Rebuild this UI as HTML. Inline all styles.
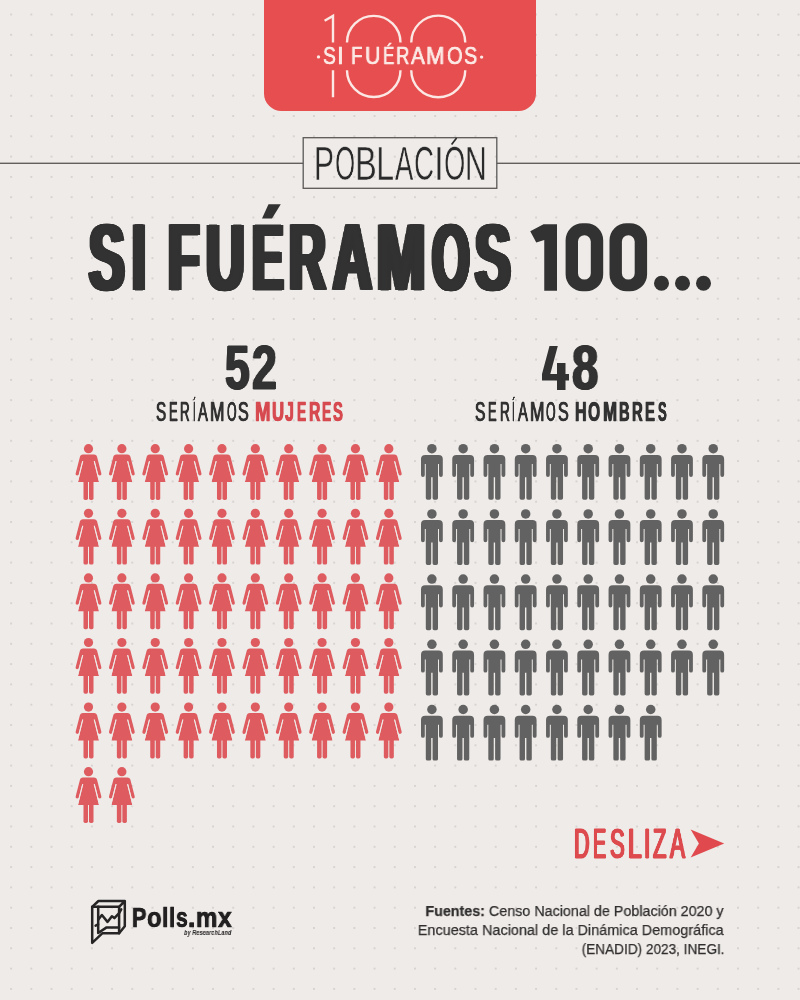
<!DOCTYPE html>
<html><head><meta charset="utf-8">
<style>
html,body{margin:0;padding:0;}
body{width:800px;height:1000px;position:relative;overflow:hidden;background:#eeebe8;font-family:"Liberation Sans",sans-serif;}
.abs{position:absolute;white-space:nowrap;line-height:1;will-change:transform;}
svg.full{position:absolute;left:0;top:0;}
</style></head><body>
<svg class="full" width="800" height="1000" viewBox="0 0 800 1000">
<defs>
<pattern id="dots" x="11.14" y="14.5" width="20.19" height="20.30" patternUnits="userSpaceOnUse">
<circle cx="0" cy="0" r="0.75" fill="#b3afac"/><circle cx="20.19" cy="0" r="0.75" fill="#b3afac"/><circle cx="0" cy="20.30" r="0.75" fill="#b3afac"/><circle cx="20.19" cy="20.30" r="0.75" fill="#b3afac"/>
</pattern>
<g id="w" fill="#de5b5f">
<circle cx="0" cy="0" r="4.6"/>
<path d="M -5.5,5.9 L 5.5,5.9 C 7.3,5.9 8.3,6.9 8.6,8.2 L 12.8,24.5 C 13.1,25.8 12.3,26.8 11.2,26.8 C 10.4,26.8 9.9,26.3 9.7,25.6 L 6.3,12.4 L -6.3,12.4 L -9.7,25.6 C -9.9,26.3 -10.4,26.8 -11.2,26.8 C -12.3,26.8 -13.1,25.8 -12.8,24.5 L -8.6,8.2 C -8.3,6.9 -7.3,5.9 -5.5,5.9 Z"/>
<path d="M -4.2,7 L 4.2,7 L 10.5,33.4 L -10.5,33.4 Z"/>
<path d="M -5.0,32 L -0.5,32 L -0.5,49.6 Q -0.5,51.3 -2.2,51.3 L -3.3,51.3 Q -5.0,51.3 -5.0,49.6 Z"/>
<path d="M 5.0,32 L 0.5,32 L 0.5,49.6 Q 0.5,51.3 2.2,51.3 L 3.3,51.3 Q 5.0,51.3 5.0,49.6 Z"/>
<path d="M 5.7,12.6 L 11.6,35.8 M -5.7,12.6 L -11.6,35.8" stroke="#eeebe8" stroke-width="1.0" fill="none"/>
</g>
<g id="m" fill="#636262">
<circle cx="0" cy="0" r="4.75"/>
<path d="M -6.7,6.2 L 6.7,6.2 Q 10.9,6.2 10.9,10.4 L 10.9,26.4 Q 10.9,28.3 9,28.3 Q 7.1,28.3 7.1,26.4 L 7.1,15.2 L 6.1,15.2 L 6.1,49.4 Q 6.1,51.1 4.4,51.1 L 2.3,51.1 Q 0.7,51.1 0.7,49.4 L 0.7,28.5 L -0.7,28.5 L -0.7,49.4 Q -0.7,51.1 -2.3,51.1 L -4.4,51.1 Q -6.1,51.1 -6.1,49.4 L -6.1,15.2 L -7.1,15.2 L -7.1,26.4 Q -7.1,28.3 -9,28.3 Q -10.9,28.3 -10.9,26.4 L -10.9,10.4 Q -10.9,6.2 -6.7,6.2 Z"/>
</g>
</defs>
<rect x="0" y="0" width="800" height="1000" fill="url(#dots)"/>
<!-- red header -->
<path d="M 264,0 L 536,0 L 536,93.5 A 17.5,17.5 0 0 1 518.5,111 L 281.5,111 A 17.5,17.5 0 0 1 264,93.5 Z" fill="#e74e4f"/>
<g fill="none" stroke="#fbe8e4" stroke-width="2.4">
<path d="M 324.6,20.7 L 333,15.9 L 333,42.6 M 333,70.2 L 333,97.2"/>
<path d="M 347,42.6 A 26.75,26.75 0 0 1 400.5,42.6 M 347,70.2 A 26.75,26.75 0 0 0 400.5,70.2"/>
<path d="M 411.25,42.6 A 27,27 0 0 1 465.25,42.6 M 411.25,70.2 A 27,27 0 0 0 465.25,70.2"/>
</g>
<circle cx="318.5" cy="56.9" r="1.7" fill="#fbe8e4"/>
<circle cx="481.6" cy="57.1" r="1.7" fill="#fbe8e4"/>
<!-- lines -->
<rect x="0" y="162.6" width="303.2" height="1.4" fill="#625f5e"/>
<rect x="496.8" y="162.6" width="303.2" height="1.4" fill="#625f5e"/>
<rect x="303.2" y="137.7" width="193.6" height="50.6" fill="none" stroke="#5a5858" stroke-width="1.3"/>
<use href="#w" x="88.50" y="448.70"/>
<use href="#w" x="121.87" y="448.70"/>
<use href="#w" x="155.24" y="448.70"/>
<use href="#w" x="188.61" y="448.70"/>
<use href="#w" x="221.98" y="448.70"/>
<use href="#w" x="255.35" y="448.70"/>
<use href="#w" x="288.72" y="448.70"/>
<use href="#w" x="322.09" y="448.70"/>
<use href="#w" x="355.46" y="448.70"/>
<use href="#w" x="388.83" y="448.70"/>
<use href="#w" x="88.50" y="513.30"/>
<use href="#w" x="121.87" y="513.30"/>
<use href="#w" x="155.24" y="513.30"/>
<use href="#w" x="188.61" y="513.30"/>
<use href="#w" x="221.98" y="513.30"/>
<use href="#w" x="255.35" y="513.30"/>
<use href="#w" x="288.72" y="513.30"/>
<use href="#w" x="322.09" y="513.30"/>
<use href="#w" x="355.46" y="513.30"/>
<use href="#w" x="388.83" y="513.30"/>
<use href="#w" x="88.50" y="577.90"/>
<use href="#w" x="121.87" y="577.90"/>
<use href="#w" x="155.24" y="577.90"/>
<use href="#w" x="188.61" y="577.90"/>
<use href="#w" x="221.98" y="577.90"/>
<use href="#w" x="255.35" y="577.90"/>
<use href="#w" x="288.72" y="577.90"/>
<use href="#w" x="322.09" y="577.90"/>
<use href="#w" x="355.46" y="577.90"/>
<use href="#w" x="388.83" y="577.90"/>
<use href="#w" x="88.50" y="642.50"/>
<use href="#w" x="121.87" y="642.50"/>
<use href="#w" x="155.24" y="642.50"/>
<use href="#w" x="188.61" y="642.50"/>
<use href="#w" x="221.98" y="642.50"/>
<use href="#w" x="255.35" y="642.50"/>
<use href="#w" x="288.72" y="642.50"/>
<use href="#w" x="322.09" y="642.50"/>
<use href="#w" x="355.46" y="642.50"/>
<use href="#w" x="388.83" y="642.50"/>
<use href="#w" x="88.50" y="707.10"/>
<use href="#w" x="121.87" y="707.10"/>
<use href="#w" x="155.24" y="707.10"/>
<use href="#w" x="188.61" y="707.10"/>
<use href="#w" x="221.98" y="707.10"/>
<use href="#w" x="255.35" y="707.10"/>
<use href="#w" x="288.72" y="707.10"/>
<use href="#w" x="322.09" y="707.10"/>
<use href="#w" x="355.46" y="707.10"/>
<use href="#w" x="388.83" y="707.10"/>
<use href="#w" x="88.50" y="771.70"/>
<use href="#w" x="121.87" y="771.70"/>
<use href="#m" x="431.90" y="448.70"/>
<use href="#m" x="463.16" y="448.70"/>
<use href="#m" x="494.42" y="448.70"/>
<use href="#m" x="525.68" y="448.70"/>
<use href="#m" x="556.94" y="448.70"/>
<use href="#m" x="588.20" y="448.70"/>
<use href="#m" x="619.46" y="448.70"/>
<use href="#m" x="650.72" y="448.70"/>
<use href="#m" x="681.98" y="448.70"/>
<use href="#m" x="713.24" y="448.70"/>
<use href="#m" x="431.90" y="513.90"/>
<use href="#m" x="463.16" y="513.90"/>
<use href="#m" x="494.42" y="513.90"/>
<use href="#m" x="525.68" y="513.90"/>
<use href="#m" x="556.94" y="513.90"/>
<use href="#m" x="588.20" y="513.90"/>
<use href="#m" x="619.46" y="513.90"/>
<use href="#m" x="650.72" y="513.90"/>
<use href="#m" x="681.98" y="513.90"/>
<use href="#m" x="713.24" y="513.90"/>
<use href="#m" x="431.90" y="579.10"/>
<use href="#m" x="463.16" y="579.10"/>
<use href="#m" x="494.42" y="579.10"/>
<use href="#m" x="525.68" y="579.10"/>
<use href="#m" x="556.94" y="579.10"/>
<use href="#m" x="588.20" y="579.10"/>
<use href="#m" x="619.46" y="579.10"/>
<use href="#m" x="650.72" y="579.10"/>
<use href="#m" x="681.98" y="579.10"/>
<use href="#m" x="713.24" y="579.10"/>
<use href="#m" x="431.90" y="644.30"/>
<use href="#m" x="463.16" y="644.30"/>
<use href="#m" x="494.42" y="644.30"/>
<use href="#m" x="525.68" y="644.30"/>
<use href="#m" x="556.94" y="644.30"/>
<use href="#m" x="588.20" y="644.30"/>
<use href="#m" x="619.46" y="644.30"/>
<use href="#m" x="650.72" y="644.30"/>
<use href="#m" x="681.98" y="644.30"/>
<use href="#m" x="713.24" y="644.30"/>
<use href="#m" x="431.90" y="709.50"/>
<use href="#m" x="463.16" y="709.50"/>
<use href="#m" x="494.42" y="709.50"/>
<use href="#m" x="525.68" y="709.50"/>
<use href="#m" x="556.94" y="709.50"/>
<use href="#m" x="588.20" y="709.50"/>
<use href="#m" x="619.46" y="709.50"/>
<use href="#m" x="650.72" y="709.50"/>
<!-- logo -->
<g fill="none" stroke="#262424" stroke-width="2.5" stroke-linejoin="round" stroke-linecap="round">
<path d="M 92.2,906.8 L 119.1,906.8 L 119.1,933.2 L 102.5,933.2 L 92.2,942.8 Z"/>
<path d="M 92.2,906.8 L 98.4,901 L 124.8,901 L 124.8,926.2 L 119.1,933.2 M 124.8,901 L 119.1,906.8"/>
<path d="M 98.2,906.8 L 98.2,933 L 106.6,927.4 L 119.1,927.4"/>
<path d="M 98.4,919.4 L 101.9,915 L 107.5,921.9 L 111.9,916.25 L 114.4,918.1 L 119.1,913.1 L 121.25,909.4"/>
<path d="M 95.6,925.6 L 98.1,924.4"/>
</g>
<circle cx="661.5" cy="283.2" r="7.5" fill="#333232"/><circle cx="682.5" cy="283.2" r="7.5" fill="#333232"/><circle cx="703.5" cy="283.2" r="7.5" fill="#333232"/><path fill-rule="evenodd" fill="#333232" d="M 582.6,223.2 L 586.2,223.2 A 17,17 0 0 1 603.2,240.2 L 603.2,274.2 A 17,17 0 0 1 586.2,291.2 L 582.6,291.2 A 17,17 0 0 1 565.6,274.2 L 565.6,240.2 A 17,17 0 0 1 582.6,223.2 Z M 584.4,235.2 A 6.4,6.4 0 0 1 584.6,235.2 A 6.4,6.4 0 0 1 590.8000000000001,241.6 L 590.8000000000001,273.2 A 6.4,6.4 0 0 1 578.0,273.2 L 578.0,241.6 A 6.4,6.4 0 0 1 584.4,235.2 Z M 626.5,223.2 L 630.1,223.2 A 17,17 0 0 1 647.1,240.2 L 647.1,274.2 A 17,17 0 0 1 630.1,291.2 L 626.5,291.2 A 17,17 0 0 1 609.5,274.2 L 609.5,240.2 A 17,17 0 0 1 626.5,223.2 Z M 628.3,235.2 A 6.4,6.4 0 0 1 628.5,235.2 A 6.4,6.4 0 0 1 634.7,241.6 L 634.7,273.2 A 6.4,6.4 0 0 1 621.9,273.2 L 621.9,241.6 A 6.4,6.4 0 0 1 628.3,235.2 Z"/><path d="M 451.6,144.6 L 456.6,137.9" stroke="#2b2a2a" stroke-width="1.7" fill="none"/><path fill="#333232" d="M 268.5,204.25 L 280.75,204.25 L 272,218.5 L 262,218.5 Z"/><path fill="#333232" d="M 530.25,231.25 L 543.5,224.25 L 557,224.25 L 557,290.8 L 544.25,290.8 L 544.25,240 L 536.25,242.5 Z"/>
<path fill="#333232" d="M 549.5,346 L 557.8,346 L 550.3,374 L 557,374 L 557,363 L 565.5,363 L 565.5,374 L 569,374 L 569,380.6 L 565.5,380.6 L 565.5,390 L 557,390 L 557,380.6 L 542,380.6 L 542,374 Z"/>
<!-- arrow -->
<path d="M 690.65,829.4 L 724.2,843.4 L 690.65,857.5 L 698.9,843.4 Z" fill="#e04a4e"/>
</svg>

<div id="t100">
<div class="abs" style="left:322.77px;top:43.84px;font-size:24.0px;font-weight:normal;color:#fbe8e4;transform-origin:0 0;transform:scaleX(0.8045);-webkit-text-stroke:0.5px #fbe8e4;text-shadow:0.30px 0 0 #fbe8e4,-0.30px 0 0 #fbe8e4;">S</div>
<div class="abs" style="left:337.30px;top:43.84px;font-size:24.0px;font-weight:normal;color:#fbe8e4;transform-origin:0 0;transform:scaleX(0.9586);-webkit-text-stroke:0.5px #fbe8e4;text-shadow:0.30px 0 0 #fbe8e4,-0.30px 0 0 #fbe8e4;">I</div>
<div class="abs" style="left:350.89px;top:43.84px;font-size:24.0px;font-weight:normal;color:#fbe8e4;transform-origin:0 0;transform:scaleX(0.7794);-webkit-text-stroke:0.5px #fbe8e4;text-shadow:0.30px 0 0 #fbe8e4,-0.30px 0 0 #fbe8e4;">F</div>
<div class="abs" style="left:364.85px;top:43.84px;font-size:24.0px;font-weight:normal;color:#fbe8e4;transform-origin:0 0;transform:scaleX(0.8826);-webkit-text-stroke:0.5px #fbe8e4;text-shadow:0.30px 0 0 #fbe8e4,-0.30px 0 0 #fbe8e4;">U</div>
<div class="abs" style="left:382.69px;top:43.84px;font-size:24.0px;font-weight:normal;color:#fbe8e4;transform-origin:0 0;transform:scaleX(0.7088);-webkit-text-stroke:0.5px #fbe8e4;text-shadow:0.30px 0 0 #fbe8e4,-0.30px 0 0 #fbe8e4;">É</div>
<div class="abs" style="left:396.15px;top:43.84px;font-size:24.0px;font-weight:normal;color:#fbe8e4;transform-origin:0 0;transform:scaleX(0.7720);-webkit-text-stroke:0.5px #fbe8e4;text-shadow:0.30px 0 0 #fbe8e4,-0.30px 0 0 #fbe8e4;">R</div>
<div class="abs" style="left:411.18px;top:43.84px;font-size:24.0px;font-weight:normal;color:#fbe8e4;transform-origin:0 0;transform:scaleX(0.8611);-webkit-text-stroke:0.5px #fbe8e4;text-shadow:0.30px 0 0 #fbe8e4,-0.30px 0 0 #fbe8e4;">A</div>
<div class="abs" style="left:426.29px;top:43.84px;font-size:24.0px;font-weight:normal;color:#fbe8e4;transform-origin:0 0;transform:scaleX(0.9210);-webkit-text-stroke:0.5px #fbe8e4;text-shadow:0.30px 0 0 #fbe8e4,-0.30px 0 0 #fbe8e4;">M</div>
<div class="abs" style="left:447.41px;top:43.84px;font-size:24.0px;font-weight:normal;color:#fbe8e4;transform-origin:0 0;transform:scaleX(0.8351);-webkit-text-stroke:0.5px #fbe8e4;text-shadow:0.30px 0 0 #fbe8e4,-0.30px 0 0 #fbe8e4;">O</div>
<div class="abs" style="left:464.30px;top:43.84px;font-size:24.0px;font-weight:normal;color:#fbe8e4;transform-origin:0 0;transform:scaleX(0.8279);-webkit-text-stroke:0.5px #fbe8e4;text-shadow:0.30px 0 0 #fbe8e4,-0.30px 0 0 #fbe8e4;">S</div>
</div>
<div id="pob">
<div class="abs" style="left:313.57px;top:140.15px;font-size:47.9px;font-weight:normal;color:#2b2a2a;transform-origin:0 0;transform:scaleX(0.6282);-webkit-text-stroke:0.5px #eeebe8;text-shadow:none;">P</div>
<div class="abs" style="left:334.54px;top:140.15px;font-size:47.9px;font-weight:normal;color:#2b2a2a;transform-origin:0 0;transform:scaleX(0.5404);-webkit-text-stroke:0.5px #eeebe8;text-shadow:none;">O</div>
<div class="abs" style="left:354.97px;top:140.15px;font-size:47.9px;font-weight:normal;color:#2b2a2a;transform-origin:0 0;transform:scaleX(0.6762);-webkit-text-stroke:0.5px #eeebe8;text-shadow:none;">B</div>
<div class="abs" style="left:376.36px;top:140.15px;font-size:47.9px;font-weight:normal;color:#2b2a2a;transform-origin:0 0;transform:scaleX(0.6790);-webkit-text-stroke:0.5px #eeebe8;text-shadow:none;">L</div>
<div class="abs" style="left:394.80px;top:140.15px;font-size:47.9px;font-weight:normal;color:#2b2a2a;transform-origin:0 0;transform:scaleX(0.5694);-webkit-text-stroke:0.5px #eeebe8;text-shadow:none;">A</div>
<div class="abs" style="left:414.25px;top:140.15px;font-size:47.9px;font-weight:normal;color:#2b2a2a;transform-origin:0 0;transform:scaleX(0.5765);-webkit-text-stroke:0.5px #eeebe8;text-shadow:none;">C</div>
<div class="abs" style="left:434.39px;top:140.15px;font-size:47.9px;font-weight:normal;color:#2b2a2a;transform-origin:0 0;transform:scaleX(0.7310);-webkit-text-stroke:0.5px #eeebe8;text-shadow:none;">I</div>
<div class="abs" style="left:444.06px;top:140.15px;font-size:47.9px;font-weight:normal;color:#2b2a2a;transform-origin:0 0;transform:scaleX(0.5715);-webkit-text-stroke:0.5px #eeebe8;text-shadow:none;">O</div>
<div class="abs" style="left:464.76px;top:140.15px;font-size:47.9px;font-weight:normal;color:#2b2a2a;transform-origin:0 0;transform:scaleX(0.6322);-webkit-text-stroke:0.5px #eeebe8;text-shadow:none;">N</div>
</div>
<div id="title">
<div class="abs" style="left:89.48px;top:209.69px;font-size:94.6px;font-weight:bold;color:#333232;transform-origin:0 0;transform:scaleX(0.5640);-webkit-text-stroke:1.0px #333232;text-shadow:1.20px 0 0 #333232,-1.20px 0 0 #333232,2.40px 0 0 #333232,-2.40px 0 0 #333232,3.60px 0 0 #333232,-3.60px 0 0 #333232,4.80px 0 0 #333232,-4.80px 0 0 #333232,4.85px 0 0 #333232,-4.85px 0 0 #333232;">S</div>
<div class="abs" style="left:131.78px;top:209.69px;font-size:94.6px;font-weight:bold;color:#333232;transform-origin:0 0;transform:scaleX(0.5303);-webkit-text-stroke:1.0px #333232;text-shadow:1.20px 0 0 #333232,-1.20px 0 0 #333232,2.40px 0 0 #333232,-2.40px 0 0 #333232,3.60px 0 0 #333232,-3.60px 0 0 #333232,4.80px 0 0 #333232,-4.80px 0 0 #333232,4.85px 0 0 #333232,-4.85px 0 0 #333232;">I</div>
<div class="abs" style="left:168.47px;top:209.69px;font-size:94.6px;font-weight:bold;color:#333232;transform-origin:0 0;transform:scaleX(0.5452);-webkit-text-stroke:1.0px #333232;text-shadow:1.20px 0 0 #333232,-1.20px 0 0 #333232,2.40px 0 0 #333232,-2.40px 0 0 #333232,3.60px 0 0 #333232,-3.60px 0 0 #333232,4.80px 0 0 #333232,-4.80px 0 0 #333232,4.85px 0 0 #333232,-4.85px 0 0 #333232;">F</div>
<div class="abs" style="left:205.81px;top:209.69px;font-size:94.6px;font-weight:bold;color:#333232;transform-origin:0 0;transform:scaleX(0.5624);-webkit-text-stroke:1.0px #333232;text-shadow:1.20px 0 0 #333232,-1.20px 0 0 #333232,2.40px 0 0 #333232,-2.40px 0 0 #333232,3.60px 0 0 #333232,-3.60px 0 0 #333232,4.80px 0 0 #333232,-4.80px 0 0 #333232,4.85px 0 0 #333232,-4.85px 0 0 #333232;">U</div>
<div class="abs" style="left:251.51px;top:209.69px;font-size:94.6px;font-weight:bold;color:#333232;transform-origin:0 0;transform:scaleX(0.5018);-webkit-text-stroke:1.0px #333232;text-shadow:1.20px 0 0 #333232,-1.20px 0 0 #333232,2.40px 0 0 #333232,-2.40px 0 0 #333232,3.60px 0 0 #333232,-3.60px 0 0 #333232,4.80px 0 0 #333232,-4.80px 0 0 #333232,4.85px 0 0 #333232,-4.85px 0 0 #333232;">E</div>
<div class="abs" style="left:289.47px;top:209.69px;font-size:94.6px;font-weight:bold;color:#333232;transform-origin:0 0;transform:scaleX(0.5371);-webkit-text-stroke:1.0px #333232;text-shadow:1.20px 0 0 #333232,-1.20px 0 0 #333232,2.40px 0 0 #333232,-2.40px 0 0 #333232,3.60px 0 0 #333232,-3.60px 0 0 #333232,4.80px 0 0 #333232,-4.80px 0 0 #333232,4.85px 0 0 #333232,-4.85px 0 0 #333232;">R</div>
<div class="abs" style="left:332.70px;top:209.69px;font-size:94.6px;font-weight:bold;color:#333232;transform-origin:0 0;transform:scaleX(0.5663);-webkit-text-stroke:1.0px #333232;text-shadow:1.20px 0 0 #333232,-1.20px 0 0 #333232,2.40px 0 0 #333232,-2.40px 0 0 #333232,3.60px 0 0 #333232,-3.60px 0 0 #333232,4.80px 0 0 #333232,-4.80px 0 0 #333232,4.85px 0 0 #333232,-4.85px 0 0 #333232;">A</div>
<div class="abs" style="left:377.40px;top:209.69px;font-size:94.6px;font-weight:bold;color:#333232;transform-origin:0 0;transform:scaleX(0.6116);-webkit-text-stroke:1.0px #333232;text-shadow:1.20px 0 0 #333232,-1.20px 0 0 #333232,2.40px 0 0 #333232,-2.40px 0 0 #333232,3.60px 0 0 #333232,-3.60px 0 0 #333232,4.80px 0 0 #333232,-4.80px 0 0 #333232,4.85px 0 0 #333232,-4.85px 0 0 #333232;">M</div>
<div class="abs" style="left:431.75px;top:209.69px;font-size:94.6px;font-weight:bold;color:#333232;transform-origin:0 0;transform:scaleX(0.5103);-webkit-text-stroke:1.0px #333232;text-shadow:1.20px 0 0 #333232,-1.20px 0 0 #333232,2.40px 0 0 #333232,-2.40px 0 0 #333232,3.60px 0 0 #333232,-3.60px 0 0 #333232,4.80px 0 0 #333232,-4.80px 0 0 #333232,4.85px 0 0 #333232,-4.85px 0 0 #333232;">O</div>
<div class="abs" style="left:475.48px;top:209.69px;font-size:94.6px;font-weight:bold;color:#333232;transform-origin:0 0;transform:scaleX(0.5640);-webkit-text-stroke:1.0px #333232;text-shadow:1.20px 0 0 #333232,-1.20px 0 0 #333232,2.40px 0 0 #333232,-2.40px 0 0 #333232,3.60px 0 0 #333232,-3.60px 0 0 #333232,4.80px 0 0 #333232,-4.80px 0 0 #333232,4.85px 0 0 #333232,-4.85px 0 0 #333232;">S</div>
</div>
<div id="nums">
<div class="abs" style="left:224.90px;top:335.97px;font-size:63.2px;font-weight:bold;color:#333232;transform-origin:0 0;transform:scaleX(0.6991);-webkit-text-stroke:1.0px #333232;text-shadow:1.20px 0 0 #333232,-1.20px 0 0 #333232,1.30px 0 0 #333232,-1.30px 0 0 #333232;">5</div>
<div class="abs" style="left:252.22px;top:335.97px;font-size:63.2px;font-weight:bold;color:#333232;transform-origin:0 0;transform:scaleX(0.7053);-webkit-text-stroke:1.0px #333232;text-shadow:1.20px 0 0 #333232,-1.20px 0 0 #333232,1.30px 0 0 #333232,-1.30px 0 0 #333232;">2</div>
<div class="abs" style="left:571.85px;top:335.97px;font-size:63.2px;font-weight:bold;color:#333232;transform-origin:0 0;transform:scaleX(0.7472);-webkit-text-stroke:1.0px #333232;text-shadow:1.20px 0 0 #333232,-1.20px 0 0 #333232,1.30px 0 0 #333232,-1.30px 0 0 #333232;">8</div>
</div>

<div id="subs">
<div class="abs" style="left:155.93px;top:399.12px;font-size:27.0px;font-weight:normal;color:#333232;transform-origin:0 0;transform:scaleX(0.5636);-webkit-text-stroke:0.6px #333232;text-shadow:0.80px 0 0 #333232,-0.80px 0 0 #333232;">S</div>
<div class="abs" style="left:168.56px;top:399.12px;font-size:27.0px;font-weight:normal;color:#333232;transform-origin:0 0;transform:scaleX(0.4812);-webkit-text-stroke:0.6px #333232;text-shadow:0.80px 0 0 #333232,-0.80px 0 0 #333232;">E</div>
<div class="abs" style="left:180.25px;top:399.12px;font-size:27.0px;font-weight:normal;color:#333232;transform-origin:0 0;transform:scaleX(0.4937);-webkit-text-stroke:0.6px #333232;text-shadow:0.80px 0 0 #333232,-0.80px 0 0 #333232;">R</div>
<div class="abs" style="left:192.56px;top:399.12px;font-size:27.0px;font-weight:normal;color:#333232;transform-origin:0 0;transform:scaleX(0.3081);-webkit-text-stroke:0.6px #333232;text-shadow:0.80px 0 0 #333232,-0.80px 0 0 #333232;">Í</div>
<div class="abs" style="left:198.47px;top:399.12px;font-size:27.0px;font-weight:normal;color:#333232;transform-origin:0 0;transform:scaleX(0.5422);-webkit-text-stroke:0.6px #333232;text-shadow:0.80px 0 0 #333232,-0.80px 0 0 #333232;">A</div>
<div class="abs" style="left:210.28px;top:399.12px;font-size:27.0px;font-weight:normal;color:#333232;transform-origin:0 0;transform:scaleX(0.6416);-webkit-text-stroke:0.6px #333232;text-shadow:0.80px 0 0 #333232,-0.80px 0 0 #333232;">M</div>
<div class="abs" style="left:226.82px;top:399.12px;font-size:27.0px;font-weight:normal;color:#333232;transform-origin:0 0;transform:scaleX(0.4556);-webkit-text-stroke:0.6px #333232;text-shadow:0.80px 0 0 #333232,-0.80px 0 0 #333232;">O</div>
<div class="abs" style="left:238.43px;top:399.12px;font-size:27.0px;font-weight:normal;color:#333232;transform-origin:0 0;transform:scaleX(0.5918);-webkit-text-stroke:0.6px #333232;text-shadow:0.80px 0 0 #333232,-0.80px 0 0 #333232;">S</div>
<div class="abs" style="left:475.28px;top:399.12px;font-size:27.0px;font-weight:normal;color:#333232;transform-origin:0 0;transform:scaleX(0.5720);-webkit-text-stroke:0.6px #333232;text-shadow:0.80px 0 0 #333232,-0.80px 0 0 #333232;">S</div>
<div class="abs" style="left:488.47px;top:399.12px;font-size:27.0px;font-weight:normal;color:#333232;transform-origin:0 0;transform:scaleX(0.4752);-webkit-text-stroke:0.6px #333232;text-shadow:0.80px 0 0 #333232,-0.80px 0 0 #333232;">E</div>
<div class="abs" style="left:499.54px;top:399.12px;font-size:27.0px;font-weight:normal;color:#333232;transform-origin:0 0;transform:scaleX(0.5046);-webkit-text-stroke:0.6px #333232;text-shadow:0.80px 0 0 #333232,-0.80px 0 0 #333232;">R</div>
<div class="abs" style="left:512.04px;top:399.12px;font-size:27.0px;font-weight:normal;color:#333232;transform-origin:0 0;transform:scaleX(0.3338);-webkit-text-stroke:0.6px #333232;text-shadow:0.80px 0 0 #333232,-0.80px 0 0 #333232;">Í</div>
<div class="abs" style="left:517.57px;top:399.12px;font-size:27.0px;font-weight:normal;color:#333232;transform-origin:0 0;transform:scaleX(0.5472);-webkit-text-stroke:0.6px #333232;text-shadow:0.80px 0 0 #333232,-0.80px 0 0 #333232;">A</div>
<div class="abs" style="left:529.68px;top:399.12px;font-size:27.0px;font-weight:normal;color:#333232;transform-origin:0 0;transform:scaleX(0.6416);-webkit-text-stroke:0.6px #333232;text-shadow:0.80px 0 0 #333232,-0.80px 0 0 #333232;">M</div>
<div class="abs" style="left:546.22px;top:399.12px;font-size:27.0px;font-weight:normal;color:#333232;transform-origin:0 0;transform:scaleX(0.4556);-webkit-text-stroke:0.6px #333232;text-shadow:0.80px 0 0 #333232,-0.80px 0 0 #333232;">O</div>
<div class="abs" style="left:557.83px;top:399.12px;font-size:27.0px;font-weight:normal;color:#333232;transform-origin:0 0;transform:scaleX(0.5918);-webkit-text-stroke:0.6px #333232;text-shadow:0.80px 0 0 #333232,-0.80px 0 0 #333232;">S</div>
<div class="abs" style="left:255.04px;top:399.02px;font-size:27.0px;font-weight:bold;color:#d64a50;transform-origin:0 0;transform:scaleX(0.6897);-webkit-text-stroke:0.5px #d64a50;text-shadow:0.75px 0 0 #d64a50,-0.75px 0 0 #d64a50;">M</div>
<div class="abs" style="left:271.52px;top:399.02px;font-size:27.0px;font-weight:bold;color:#d64a50;transform-origin:0 0;transform:scaleX(0.6144);-webkit-text-stroke:0.5px #d64a50;text-shadow:0.75px 0 0 #d64a50,-0.75px 0 0 #d64a50;">U</div>
<div class="abs" style="left:285.35px;top:399.02px;font-size:27.0px;font-weight:bold;color:#d64a50;transform-origin:0 0;transform:scaleX(0.5927);-webkit-text-stroke:0.5px #d64a50;text-shadow:0.75px 0 0 #d64a50,-0.75px 0 0 #d64a50;">J</div>
<div class="abs" style="left:297.09px;top:399.02px;font-size:27.0px;font-weight:bold;color:#d64a50;transform-origin:0 0;transform:scaleX(0.5103);-webkit-text-stroke:0.5px #d64a50;text-shadow:0.75px 0 0 #d64a50,-0.75px 0 0 #d64a50;">E</div>
<div class="abs" style="left:308.93px;top:399.02px;font-size:27.0px;font-weight:bold;color:#d64a50;transform-origin:0 0;transform:scaleX(0.5852);-webkit-text-stroke:0.5px #d64a50;text-shadow:0.75px 0 0 #d64a50,-0.75px 0 0 #d64a50;">R</div>
<div class="abs" style="left:322.09px;top:399.02px;font-size:27.0px;font-weight:bold;color:#d64a50;transform-origin:0 0;transform:scaleX(0.5103);-webkit-text-stroke:0.5px #d64a50;text-shadow:0.75px 0 0 #d64a50,-0.75px 0 0 #d64a50;">E</div>
<div class="abs" style="left:333.22px;top:399.02px;font-size:27.0px;font-weight:bold;color:#d64a50;transform-origin:0 0;transform:scaleX(0.5502);-webkit-text-stroke:0.5px #d64a50;text-shadow:0.75px 0 0 #d64a50,-0.75px 0 0 #d64a50;">S</div>
<div class="abs" style="left:574.52px;top:399.02px;font-size:27.0px;font-weight:bold;color:#333232;transform-origin:0 0;transform:scaleX(0.5931);-webkit-text-stroke:0.5px #333232;text-shadow:0.75px 0 0 #333232,-0.75px 0 0 #333232;">H</div>
<div class="abs" style="left:587.94px;top:399.02px;font-size:27.0px;font-weight:bold;color:#333232;transform-origin:0 0;transform:scaleX(0.5780);-webkit-text-stroke:0.5px #333232;text-shadow:0.75px 0 0 #333232,-0.75px 0 0 #333232;">O</div>
<div class="abs" style="left:602.50px;top:399.02px;font-size:27.0px;font-weight:bold;color:#333232;transform-origin:0 0;transform:scaleX(0.6226);-webkit-text-stroke:0.5px #333232;text-shadow:0.75px 0 0 #333232,-0.75px 0 0 #333232;">M</div>
<div class="abs" style="left:618.96px;top:399.02px;font-size:27.0px;font-weight:bold;color:#333232;transform-origin:0 0;transform:scaleX(0.5415);-webkit-text-stroke:0.5px #333232;text-shadow:0.75px 0 0 #333232,-0.75px 0 0 #333232;">B</div>
<div class="abs" style="left:632.06px;top:399.02px;font-size:27.0px;font-weight:bold;color:#333232;transform-origin:0 0;transform:scaleX(0.5486);-webkit-text-stroke:0.5px #333232;text-shadow:0.75px 0 0 #333232,-0.75px 0 0 #333232;">R</div>
<div class="abs" style="left:645.16px;top:399.02px;font-size:27.0px;font-weight:bold;color:#333232;transform-origin:0 0;transform:scaleX(0.5482);-webkit-text-stroke:0.5px #333232;text-shadow:0.75px 0 0 #333232,-0.75px 0 0 #333232;">E</div>
<div class="abs" style="left:657.61px;top:399.02px;font-size:27.0px;font-weight:bold;color:#333232;transform-origin:0 0;transform:scaleX(0.4814);-webkit-text-stroke:0.5px #333232;text-shadow:0.75px 0 0 #333232,-0.75px 0 0 #333232;">S</div>
</div>

<div id="des">
<div class="abs" style="left:573.87px;top:822.75px;font-size:41.6px;font-weight:normal;color:#dd4b4f;transform-origin:0 0;transform:scaleX(0.5165);-webkit-text-stroke:1.2px #dd4b4f;text-shadow:1.20px 0 0 #dd4b4f,-1.20px 0 0 #dd4b4f,1.60px 0 0 #dd4b4f,-1.60px 0 0 #dd4b4f;">D</div>
<div class="abs" style="left:593.43px;top:822.75px;font-size:41.6px;font-weight:normal;color:#dd4b4f;transform-origin:0 0;transform:scaleX(0.4732);-webkit-text-stroke:1.2px #dd4b4f;text-shadow:1.20px 0 0 #dd4b4f,-1.20px 0 0 #dd4b4f,1.60px 0 0 #dd4b4f,-1.60px 0 0 #dd4b4f;">E</div>
<div class="abs" style="left:609.91px;top:822.75px;font-size:41.6px;font-weight:normal;color:#dd4b4f;transform-origin:0 0;transform:scaleX(0.5291);-webkit-text-stroke:1.2px #dd4b4f;text-shadow:1.20px 0 0 #dd4b4f,-1.20px 0 0 #dd4b4f,1.60px 0 0 #dd4b4f,-1.60px 0 0 #dd4b4f;">S</div>
<div class="abs" style="left:627.78px;top:822.75px;font-size:41.6px;font-weight:normal;color:#dd4b4f;transform-origin:0 0;transform:scaleX(0.5936);-webkit-text-stroke:1.2px #dd4b4f;text-shadow:1.20px 0 0 #dd4b4f,-1.20px 0 0 #dd4b4f,1.60px 0 0 #dd4b4f,-1.60px 0 0 #dd4b4f;">L</div>
<div class="abs" style="left:644.11px;top:822.75px;font-size:41.6px;font-weight:normal;color:#dd4b4f;transform-origin:0 0;transform:scaleX(0.5435);-webkit-text-stroke:1.2px #dd4b4f;text-shadow:1.20px 0 0 #dd4b4f,-1.20px 0 0 #dd4b4f,1.60px 0 0 #dd4b4f,-1.60px 0 0 #dd4b4f;">I</div>
<div class="abs" style="left:652.96px;top:822.75px;font-size:41.6px;font-weight:normal;color:#dd4b4f;transform-origin:0 0;transform:scaleX(0.5241);-webkit-text-stroke:1.2px #dd4b4f;text-shadow:1.20px 0 0 #dd4b4f,-1.20px 0 0 #dd4b4f,1.60px 0 0 #dd4b4f,-1.60px 0 0 #dd4b4f;">Z</div>
<div class="abs" style="left:670.14px;top:822.75px;font-size:41.6px;font-weight:normal;color:#dd4b4f;transform-origin:0 0;transform:scaleX(0.5393);-webkit-text-stroke:1.2px #dd4b4f;text-shadow:1.20px 0 0 #dd4b4f,-1.20px 0 0 #dd4b4f,1.60px 0 0 #dd4b4f,-1.60px 0 0 #dd4b4f;">A</div>
</div>
<div id="polls">
<div class="abs" style="left:131.84px;top:905.02px;font-size:27.0px;font-weight:bold;color:#222020;transform-origin:0 0;transform:scaleX(0.7949);-webkit-text-stroke:0.6px #222020;text-shadow:0.30px 0 0 #222020,-0.30px 0 0 #222020;">P</div>
<div class="abs" style="left:146.85px;top:905.02px;font-size:27.0px;font-weight:bold;color:#222020;transform-origin:0 0;transform:scaleX(0.8824);-webkit-text-stroke:0.6px #222020;text-shadow:0.30px 0 0 #222020,-0.30px 0 0 #222020;">o</div>
<div class="abs" style="left:161.90px;top:905.02px;font-size:27.0px;font-weight:bold;color:#222020;transform-origin:0 0;transform:scaleX(0.8563);-webkit-text-stroke:0.6px #222020;text-shadow:0.30px 0 0 #222020,-0.30px 0 0 #222020;">l</div>
<div class="abs" style="left:168.95px;top:905.02px;font-size:27.0px;font-weight:bold;color:#222020;transform-origin:0 0;transform:scaleX(0.8156);-webkit-text-stroke:0.6px #222020;text-shadow:0.30px 0 0 #222020,-0.30px 0 0 #222020;">l</div>
<div class="abs" style="left:175.73px;top:905.02px;font-size:27.0px;font-weight:bold;color:#222020;transform-origin:0 0;transform:scaleX(0.7769);-webkit-text-stroke:0.6px #222020;text-shadow:0.30px 0 0 #222020,-0.30px 0 0 #222020;">s</div>
<div class="abs" style="left:188.02px;top:905.02px;font-size:27.0px;font-weight:bold;color:#222020;transform-origin:0 0;transform:scaleX(0.9581);-webkit-text-stroke:0.6px #222020;text-shadow:0.30px 0 0 #222020,-0.30px 0 0 #222020;">.</div>
<div class="abs" style="left:195.71px;top:905.02px;font-size:27.0px;font-weight:bold;color:#222020;transform-origin:0 0;transform:scaleX(0.8849);-webkit-text-stroke:0.6px #222020;text-shadow:0.30px 0 0 #222020,-0.30px 0 0 #222020;">m</div>
<div class="abs" style="left:217.78px;top:905.02px;font-size:27.0px;font-weight:bold;color:#222020;transform-origin:0 0;transform:scaleX(0.9094);-webkit-text-stroke:0.6px #222020;text-shadow:0.30px 0 0 #222020,-0.30px 0 0 #222020;">x</div>
</div>
<div class="abs" id="rl" style="left:184.4px;top:928.6px;font-size:7.4px;font-weight:bold;font-style:italic;color:#262424;transform-origin:0 0;transform:scaleX(0.77);">by ResearchLand</div>
<div class="abs" id="src1" style="right:76.2px;top:900.7px;font-size:15.1px;line-height:19px;color:#302e2e;-webkit-text-stroke:0.25px #302e2e;transform-origin:100% 0;transform:scaleX(0.948);"><b>Fuentes:</b> Censo Nacional de Población 2020 y</div>
<div class="abs" id="src2" style="right:76.2px;top:919.75px;font-size:15.1px;line-height:19px;color:#302e2e;-webkit-text-stroke:0.25px #302e2e;transform-origin:100% 0;transform:scaleX(0.957);">Encuesta Nacional de la Dinámica Demográfica</div>
<div class="abs" id="src3" style="right:75.5px;top:938.8px;font-size:15.1px;line-height:19px;color:#302e2e;-webkit-text-stroke:0.25px #302e2e;transform-origin:100% 0;transform:scaleX(0.901);">(ENADID) 2023, INEGI.</div>
</body></html>
